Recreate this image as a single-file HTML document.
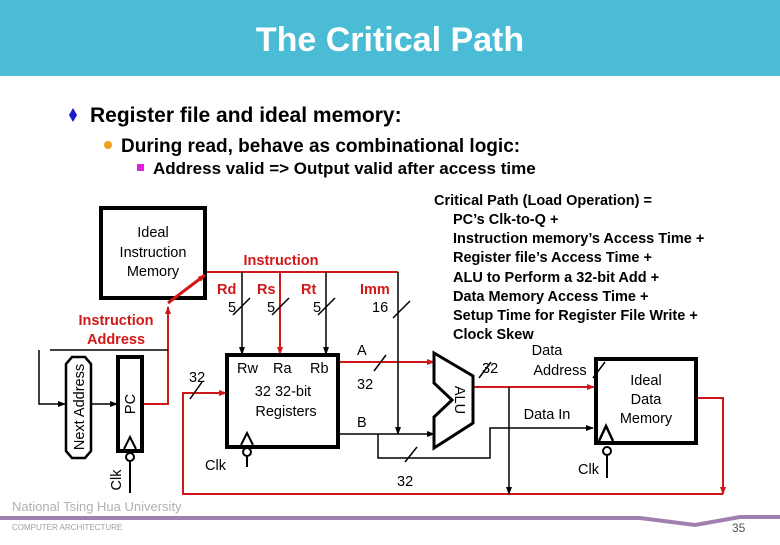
<!DOCTYPE html>
<html><head><meta charset="utf-8"><style>
body{margin:0;width:780px;height:540px;overflow:hidden;background:#fff;font-family:"Liberation Sans",Arial,sans-serif}
</style></head><body>
<svg width="780" height="540" viewBox="0 0 780 540" xmlns="http://www.w3.org/2000/svg" font-family="Liberation Sans, Arial, sans-serif">
<defs>
<marker id="ar" markerWidth="8" markerHeight="8" refX="7" refY="4" orient="auto" markerUnits="userSpaceOnUse"><path d="M0,1 L8,4 L0,7 z" fill="#d01818"/></marker>
<marker id="ab" markerWidth="8" markerHeight="8" refX="7" refY="4" orient="auto" markerUnits="userSpaceOnUse"><path d="M0,1 L8,4 L0,7 z" fill="#000"/></marker>
</defs>
<rect x="0" y="0" width="780" height="76" fill="#4bbcd6"/>
<text x="390" y="51" text-anchor="middle" fill="#fff" font-size="34" font-weight="bold">The Critical Path</text>

<path d="M73,108 L77,115 L73,122 L69,115z" fill="#1a1ad0"/>
<text x="90" y="122" font-size="21" font-weight="bold">Register file and ideal memory:</text>
<circle cx="108" cy="145" r="4" fill="#f0a020"/>
<text x="121" y="152" font-size="19" font-weight="bold">During read, behave as combinational logic:</text>
<rect x="137" y="164" width="7" height="7" fill="#e020e0"/>
<text x="153" y="174" font-size="17" font-weight="bold">Address valid =&gt; Output valid after access time</text>

<g font-size="14.5" font-weight="bold" fill="#000">
<text x="434" y="205">Critical Path (Load Operation) =</text>
<text x="453" y="224">PC’s Clk-to-Q +</text>
<text x="453" y="243">Instruction memory’s Access Time +</text>
<text x="453" y="262">Register file’s Access Time +</text>
<text x="453" y="282">ALU to Perform a 32-bit Add +</text>
<text x="453" y="301">Data Memory Access Time +</text>
<text x="453" y="320">Setup Time for Register File Write +</text>
<text x="453" y="339">Clock Skew</text>
</g>

<rect x="101" y="208" width="104" height="90" fill="none" stroke="#000" stroke-width="4"/>
<g font-size="14.5" text-anchor="middle"><text x="153" y="237">Ideal</text><text x="153" y="257">Instruction</text><text x="153" y="276">Memory</text></g>

<g stroke="#d01818" stroke-width="2" fill="none">
<path d="M207,272 H398"/>
<path d="M143,404 H168 V307" marker-end="url(#ar)"/>
<path d="M168,303 L205,275" stroke-width="3" marker-end="url(#ar)"/>
<path d="M280,272 V354" marker-end="url(#ar)"/>
<path d="M339,362 H434" marker-end="url(#ar)"/>
<path d="M473,387 H594" marker-end="url(#ar)"/>
<path d="M698,398 H723 V494" marker-end="url(#ar)"/>
<path d="M723,494 H183 V393 H226" marker-end="url(#ar)"/>
</g>
<g stroke="#000" stroke-width="1.5" fill="none">
<path d="M242,272 V354" marker-end="url(#ab)"/>
<path d="M326,272 V354" marker-end="url(#ab)"/>
<path d="M398,272 V434" marker-end="url(#ab)"/>
<path d="M339,434 H434" marker-end="url(#ab)"/>
<path d="M378,434 V458 H490 V428 H593" marker-end="url(#ab)"/>
<path d="M509,387 V494" marker-end="url(#ab)"/>
<path d="M50,350 H168"/>
<path d="M39,350 V404 H65" marker-end="url(#ab)"/>
<path d="M92,404 H117" marker-end="url(#ab)"/>
<path d="M233,315 L250,298 M272,315 L289,298 M318,315 L335,298 M393,318 L410,301 M374,371 L386,355 M454,392 L466,376 M405,462 L417,447 M190,399 L202,382 M593,378 L605,362 M479,378 L491,362"/>
</g>
<g font-size="14.5" fill="#d01818" font-weight="bold">
<text x="281" y="265" text-anchor="middle">Instruction</text>
<text x="217" y="294">Rd</text><text x="257" y="294">Rs</text><text x="301" y="294">Rt</text><text x="360" y="294">Imm</text>
<text x="116" y="325" text-anchor="middle">Instruction</text><text x="116" y="344" text-anchor="middle">Address</text>
</g>
<g font-size="14.5">
<text x="228" y="312">5</text><text x="267" y="312">5</text><text x="313" y="312">5</text><text x="372" y="312">16</text>
<text x="357" y="355">A</text><text x="357" y="389">32</text><text x="357" y="427">B</text>
<text x="397" y="486">32</text><text x="189" y="382">32</text><text x="482" y="373">32</text>
<text x="547" y="355" text-anchor="middle">Data</text><text x="560" y="375" text-anchor="middle">Address</text>
<text x="547" y="419" text-anchor="middle">Data In</text>
<text x="205" y="470">Clk</text><text x="578" y="474">Clk</text>
</g>

<rect x="227" y="355" width="111" height="92" fill="none" stroke="#000" stroke-width="4"/>
<g font-size="14.5"><text x="237" y="373">Rw</text><text x="273" y="373">Ra</text><text x="310" y="373">Rb</text>
<text x="283" y="396" text-anchor="middle">32 32-bit</text><text x="286" y="416" text-anchor="middle">Registers</text></g>
<path d="M241,445 L247,433 L253,445" fill="none" stroke="#000" stroke-width="2"/>
<circle cx="247" cy="452" r="4" fill="none" stroke="#000" stroke-width="2"/><path d="M247,456 V467" stroke="#000" stroke-width="2"/>

<path d="M434,353 L473,376 L473,423 L434,448 L434,417 L452,400 L434,383 Z" fill="#fff" stroke="#000" stroke-width="3"/>
<text transform="translate(455,400) rotate(90)" font-size="14.5" text-anchor="middle">ALU</text>

<rect x="596" y="359" width="100" height="84" fill="none" stroke="#000" stroke-width="4"/>
<g font-size="14.5" text-anchor="middle"><text x="646" y="385">Ideal</text><text x="646" y="404">Data</text><text x="646" y="423">Memory</text></g>
<path d="M599,441 L606,426 L613,441" fill="none" stroke="#000" stroke-width="2.5"/>
<circle cx="607" cy="451" r="4" fill="none" stroke="#000" stroke-width="2"/><path d="M607,455 V478" stroke="#000" stroke-width="2"/>

<path d="M72,357 H85 L91,364 V451 L85,458 H72 L66,451 V364 Z" fill="none" stroke="#000" stroke-width="2.5"/>
<text transform="translate(84,407) rotate(-90)" font-size="14.5" text-anchor="middle">Next Address</text>
<rect x="118" y="357" width="24" height="94" fill="none" stroke="#000" stroke-width="4"/>
<text transform="translate(135,404) rotate(-90)" font-size="14.5" text-anchor="middle">PC</text>
<path d="M124,449 L130,437 L136,449" fill="none" stroke="#000" stroke-width="2"/>
<circle cx="130" cy="457" r="4" fill="none" stroke="#000" stroke-width="2"/><path d="M130,461 V493" stroke="#000" stroke-width="2"/>
<text transform="translate(121,480) rotate(-90)" font-size="14.5" text-anchor="middle">Clk</text>

<text x="12" y="511" font-size="13" fill="#b0b0b0">National  Tsing  Hua  University</text>
<path d="M0,518 H640 L695,525 L740,517 H780" stroke="#a080b0" stroke-width="4" fill="none"/>
<text x="12" y="530" font-size="8" fill="#a0a0a0">COMPUTER   ARCHITECTURE</text>
<text x="732" y="532" font-size="12" fill="#555">35</text>
</svg>
</body></html>
